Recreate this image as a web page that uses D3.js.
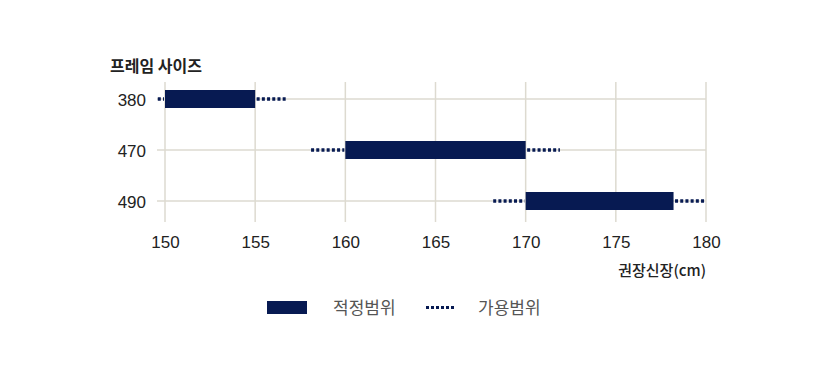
<!DOCTYPE html>
<html><head><meta charset="utf-8">
<script src="https://cdn.jsdelivr.net/npm/d3@7"></script>
<style>body{margin:0;background:#fff}svg{display:block;font-family:"Noto Sans CJK KR","Noto Sans",sans-serif}</style>
</head><body><svg id="c" width="825" height="373"></svg>
<script>
const sizes = ["380","470","490"];
const optimalMin = [150,160,170];
const optimalMax = [155,170,178.2];
const usableMin = [149.6,158.1,168.2];
const usableMax = [156.8,171.9,180];
const xTicks = [150,155,160,165,170,175,180];
const yTitle = "프레임 사이즈";
const xTitle = "권장신장(cm)";
const legendLabels = ["적정범위","가용범위"];

const svg = d3.select("#c");
const x = d3.scaleLinear().domain([150,180]).range([165,706]);
const y = d3.scalePoint().domain(sizes).range([99,201]);
const navy = "#071a52", grid = "#dddad0", txt = "#222";
const dash = "3,2.2";

const g = svg.append("g");
g.selectAll(".vg").data(xTicks).join("line")
  .attr("x1",d=>x(d)).attr("x2",d=>x(d)).attr("y1",82).attr("y2",222)
  .attr("stroke",grid).attr("stroke-width",1.5);
g.selectAll(".hg").data(sizes).join("line")
  .attr("x1",157).attr("x2",706).attr("y1",d=>y(d)).attr("y2",d=>y(d))
  .attr("stroke",grid).attr("stroke-width",1.5);

const rows = sizes.map((s,i)=>({s,omin:optimalMin[i],omax:optimalMax[i],umin:usableMin[i],umax:usableMax[i]}));
g.selectAll(".ul").data(rows).join("line")
  .attr("x1",d=>x(d.umin)).attr("x2",d=>x(d.omin)-1)
  .attr("y1",d=>y(d.s)).attr("y2",d=>y(d.s))
  .attr("stroke",navy).attr("stroke-width",3.5).attr("stroke-dasharray",dash);
g.selectAll(".ur").data(rows).join("line")
  .attr("x1",d=>x(d.omax)+1.5).attr("x2",d=>x(d.umax))
  .attr("y1",d=>y(d.s)).attr("y2",d=>y(d.s))
  .attr("stroke",navy).attr("stroke-width",3.5).attr("stroke-dasharray",dash);
g.selectAll(".bar").data(rows).join("rect")
  .attr("x",d=>x(d.omin)).attr("width",d=>x(d.omax)-x(d.omin))
  .attr("y",d=>y(d.s)-9).attr("height",18).attr("fill",navy);

const ya = d3.axisLeft(y).tickSize(0).tickPadding(0);
svg.append("g").attr("transform","translate(146,1)").call(ya)
  .call(a=>a.select(".domain").remove())
  .selectAll("text").attr("font-size",17).attr("fill",txt).attr("font-family",null);
const xa = d3.axisBottom(x).tickValues(xTicks).tickSize(0).tickPadding(0).tickFormat(d3.format("d"));
svg.append("g").attr("transform","translate(0,236)").call(xa)
  .call(a=>a.select(".domain").remove())
  .selectAll("text").attr("font-size",17).attr("fill",txt).attr("font-family",null);

svg.append("text").attr("x",110).attr("y",72).attr("font-size",16).attr("font-weight",700)
  .attr("fill",txt).text(yTitle);
svg.append("text").attr("x",706).attr("y",276).attr("text-anchor","end").attr("font-size",15)
  .attr("font-weight",500).attr("fill",txt).text(xTitle);

svg.append("rect").attr("x",267).attr("y",301).attr("width",40).attr("height",13).attr("fill",navy);
svg.append("text").attr("x",333).attr("y",314).attr("font-size",17).attr("fill","#555").text(legendLabels[0]);
svg.append("line").attr("x1",426).attr("x2",455).attr("y1",307.5).attr("y2",307.5)
  .attr("stroke",navy).attr("stroke-width",3).attr("stroke-dasharray","3,2");
svg.append("text").attr("x",478).attr("y",314).attr("font-size",17).attr("fill","#555").text(legendLabels[1]);
</script></body></html>
